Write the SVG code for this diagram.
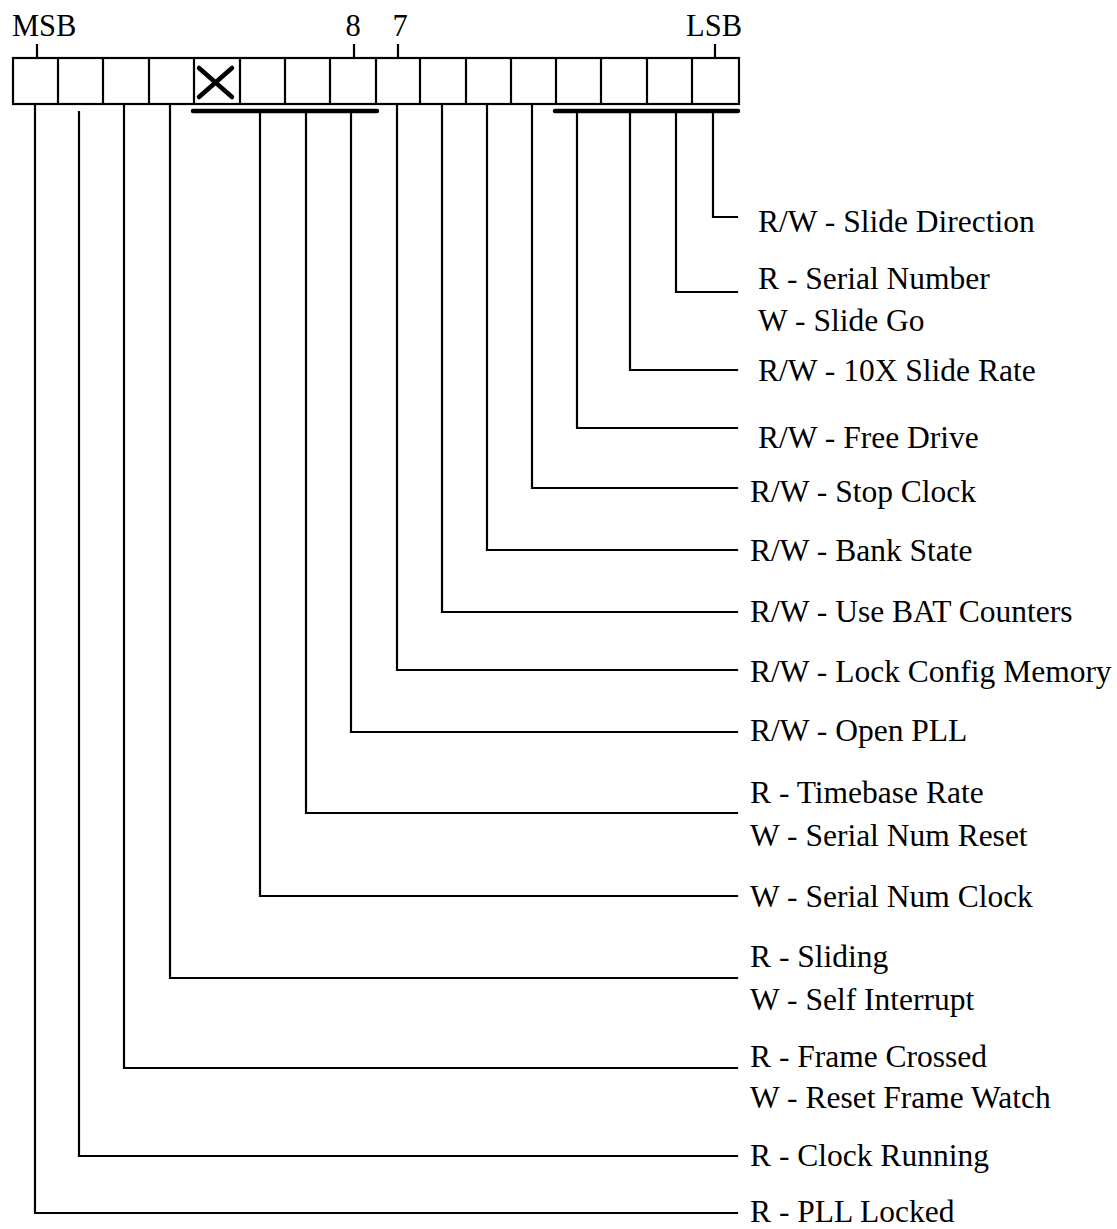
<svg xmlns="http://www.w3.org/2000/svg" width="1117" height="1229" viewBox="0 0 1117 1229">
<style>
.t{font-family:"Liberation Serif","Times New Roman",serif;font-size:31.5px;fill:#000}
.h{font-family:"Liberation Serif","Times New Roman",serif;font-size:30.5px;fill:#000}
.ln{fill:none;stroke:#000;stroke-width:2.2;stroke-linecap:square}
.bx{fill:#fff;stroke:#000;stroke-width:2.2}
.bar{stroke:#000;stroke-width:4.5;stroke-linecap:round}
</style>
<rect width="1117" height="1229" fill="#fff"/>
<g id="register">
<rect class="bx" x="13" y="58" width="726" height="46"/>
<path class="ln" d="M58,58V104M103,58V104M149,58V104M194,58V104M240,58V104M285,58V104M330,58V104M376,58V104M420,58V104M466,58V104M511,58V104M556,58V104M601,58V104M647,58V104M692,58V104"/>
<path class="bar" d="M199,68L232,97M199,97L232,68"/>
<path class="ln" d="M37,45V58M354,45V58M398,45V58M715,45V58"/>
<text class="h" x="12" y="36">MSB</text>
<text class="h" x="353" y="36" text-anchor="middle">8</text>
<text class="h" x="400" y="36" text-anchor="middle">7</text>
<text class="h" x="742" y="36" text-anchor="end">LSB</text>
<path class="bar" d="M193,111H377M555,111H738"/>
</g>
<g id="connectors">
<path class="ln" d="M713,111V217H737"/>
<path class="ln" d="M676,111V292H737"/>
<path class="ln" d="M630,111V370H737"/>
<path class="ln" d="M577,111V428H737"/>
<path class="ln" d="M532,104V488H737"/>
<path class="ln" d="M487,104V550H737"/>
<path class="ln" d="M442,104V612H737"/>
<path class="ln" d="M397,104V670H737"/>
<path class="ln" d="M351,111V732H737"/>
<path class="ln" d="M306,111V813H737"/>
<path class="ln" d="M260,111V896H737"/>
<path class="ln" d="M170,104V978H737"/>
<path class="ln" d="M124,104V1068H737"/>
<path class="ln" d="M79,112V1156H737"/>
<path class="ln" d="M35,104V1213H737"/>
</g>
<g id="bit0"><text class="t" x="758" y="232">R/W - Slide Direction</text></g>
<g id="bit1"><text class="t" x="758" y="289">R - Serial Number</text><text class="t" x="758" y="331">W - Slide Go</text></g>
<g id="bit2"><text class="t" x="758" y="381">R/W - 10X Slide Rate</text></g>
<g id="bit3"><text class="t" x="758" y="448">R/W - Free Drive</text></g>
<g id="bit4"><text class="t" x="750" y="502">R/W - Stop Clock</text></g>
<g id="bit5"><text class="t" x="750" y="561">R/W - Bank State</text></g>
<g id="bit6"><text class="t" x="750" y="622">R/W - Use BAT Counters</text></g>
<g id="bit7"><text class="t" x="750" y="682">R/W - Lock Config Memory</text></g>
<g id="bit8"><text class="t" x="750" y="741">R/W - Open PLL</text></g>
<g id="bit9"><text class="t" x="750" y="803">R - Timebase Rate</text><text class="t" x="750" y="846">W - Serial Num Reset</text></g>
<g id="bit10"><text class="t" x="750" y="907">W - Serial Num Clock</text></g>
<g id="bit12"><text class="t" x="750" y="967">R - Sliding</text><text class="t" x="750" y="1010">W - Self Interrupt</text></g>
<g id="bit13"><text class="t" x="750" y="1067">R - Frame Crossed</text><text class="t" x="750" y="1108">W - Reset Frame Watch</text></g>
<g id="bit14"><text class="t" x="750" y="1166">R - Clock Running</text></g>
<g id="bit15"><text class="t" x="750" y="1222">R - PLL Locked</text></g>
</svg>
